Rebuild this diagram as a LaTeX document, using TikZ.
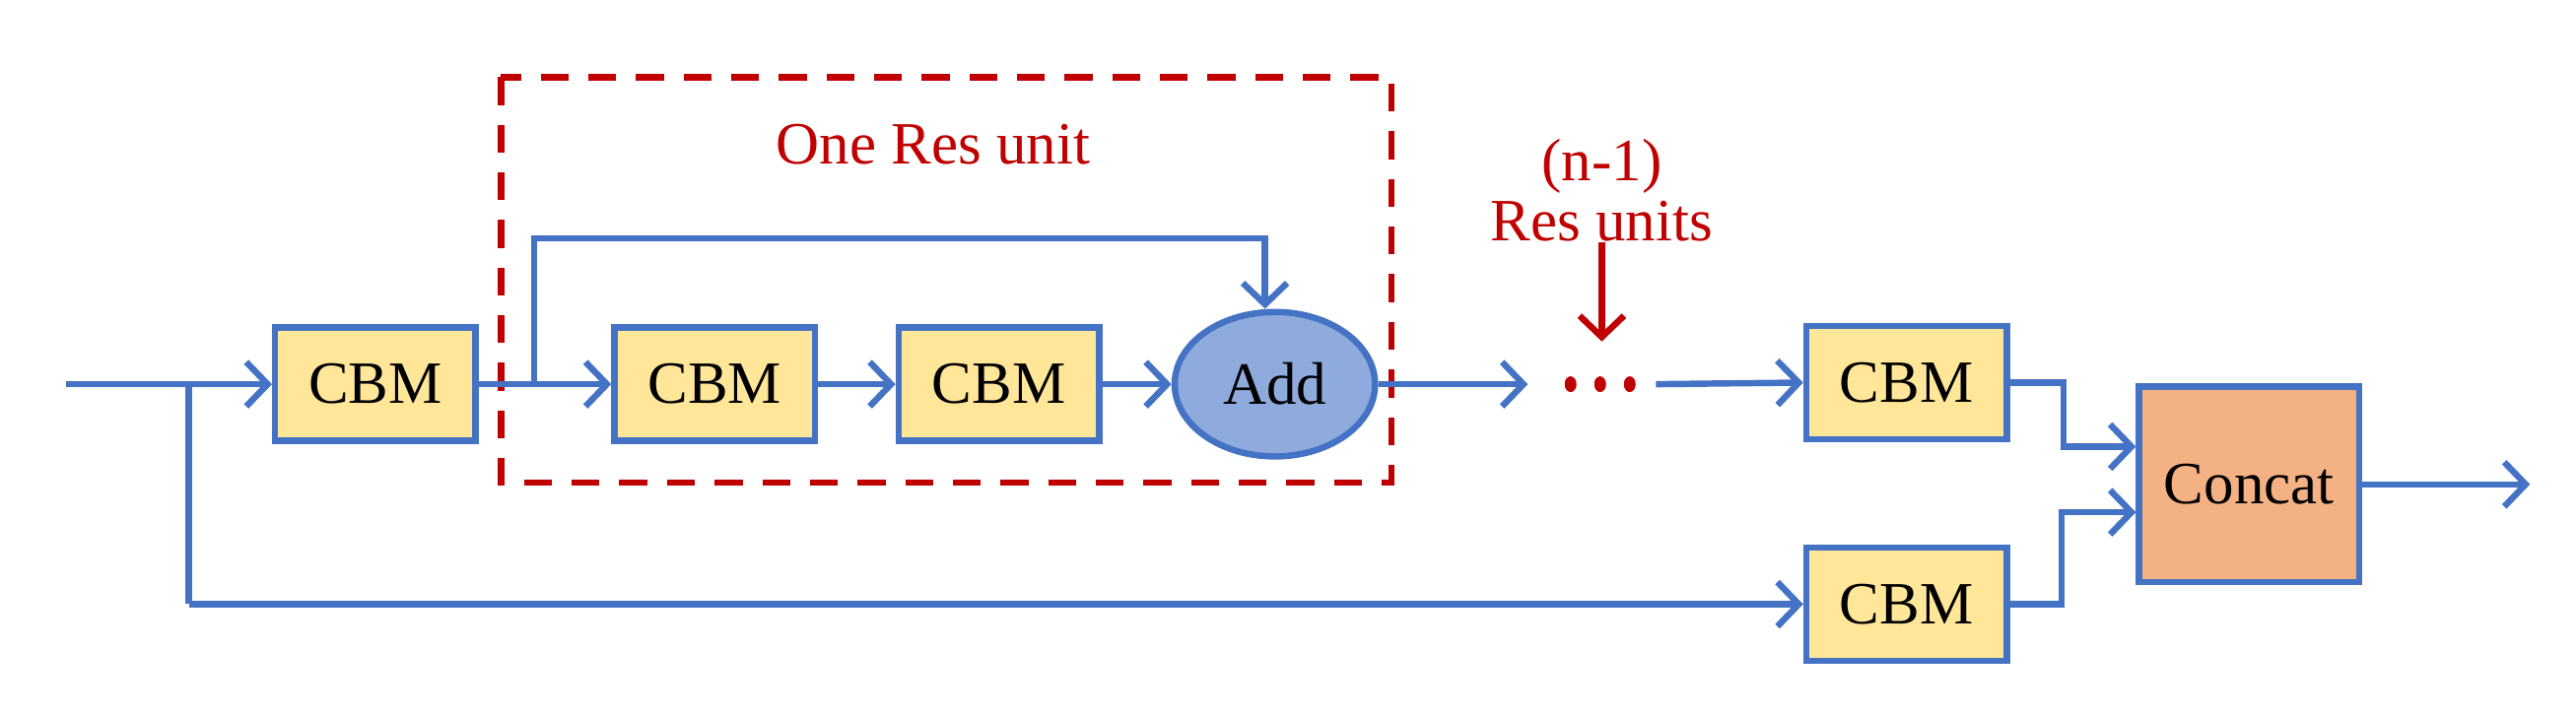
\documentclass[tikz,border=0pt]{standalone}
\usepackage{fontspec}
\setmainfont{Liberation Serif}
\usetikzlibrary{arrows.meta,shapes.geometric}
\definecolor{bl}{HTML}{4472C4}
\definecolor{yl}{HTML}{FFE699}
\definecolor{ad}{HTML}{8FAADC}
\definecolor{cc}{HTML}{F4B183}
\definecolor{rd}{HTML}{C00000}
\begin{document}
\begin{tikzpicture}[x=0.05cm,y=-0.05cm,
  lw/.style={line width=5.5pt},
  box/.style={draw=bl,lw,fill=yl,minimum width=6.1cm,minimum height=3.45cm,inner sep=0pt,font=\fontsize{52}{56}\selectfont},
  con/.style={draw=bl,lw,-{Straight Barb[length=0.65cm,width=1.35cm,line width=5.5pt]}},
  ln/.style={draw=bl,lw},
  rtxt/.style={text=rd,font=\fontsize{52}{56}\selectfont}]
\useasboundingbox (0,0) rectangle (1568,435.6);
\draw[rd,lw,dash pattern=on 0.85cm off 0.6cm] (305,47) rectangle (847,294);
\node[rtxt] (t1) at (568,88) {One Res unit};
\node[rtxt] (t2) at (975,101) {(n-1)};
\node[rtxt] (t3) at (975,135) {Res units};
\node[box] (c1) at (228.5,234) {CBM};
\node[box] (c2) at (435,234) {CBM};
\node[box] (c3) at (608,234) {CBM};
\node[draw=bl,lw,fill=ad,ellipse,minimum width=6.1cm,minimum height=4.4cm,inner sep=0pt,font=\fontsize{52}{56}\selectfont] (add) at (776,234) {Add};
\node[box] (c4) at (1160.5,233) {CBM};
\node[box] (c5) at (1160.5,368) {CBM};
\node[draw=bl,lw,fill=cc,minimum width=6.7cm,minimum height=5.95cm,inner sep=0pt,font=\fontsize{52}{56}\selectfont] (cat) at (1369,295) {Concat};
\foreach \x in {956,974,992} \fill[rd] (\x,234) ellipse (0.18cm and 0.24cm);
\coordinate (in) at (40,234);
\coordinate (br) at (115,234);
\coordinate (sk) at (325,234);
\coordinate (dotsL) at (930,234);
\coordinate (dotsR) at (1008,234);
\coordinate (out) at (1540,295);
\draw[con] (in) -- (c1.west);
\draw[ln] (br) -- (115,368);
\draw[con] (115,368) -- (c5.west);
\draw[con] (c1.east) -- (c2.west);
\draw[con] (c2.east) -- (c3.west);
\draw[con] (c3.east) -- (add.west);
\draw[con] (sk) -- (325,145) -- (770,145) -- (add.north -| 770,0);
\draw[con] (add.east) -- (dotsL);
\draw[con] (dotsR) -- (c4.west);
\draw[rd,lw,-{Straight Barb[length=0.65cm,width=1.35cm,line width=5.5pt]}] (t3.south) ++(0,-2) -- (975,208);
\draw[con] (c4.east) -- (1256,233) -- (1256,272) -- (cat.west |- 0,272);
\draw[con] (c5.east) -- (1255,368) -- (1255,312) -- (cat.west |- 0,312);
\draw[con] (cat.east) -- (out);
\end{tikzpicture}
\end{document}
